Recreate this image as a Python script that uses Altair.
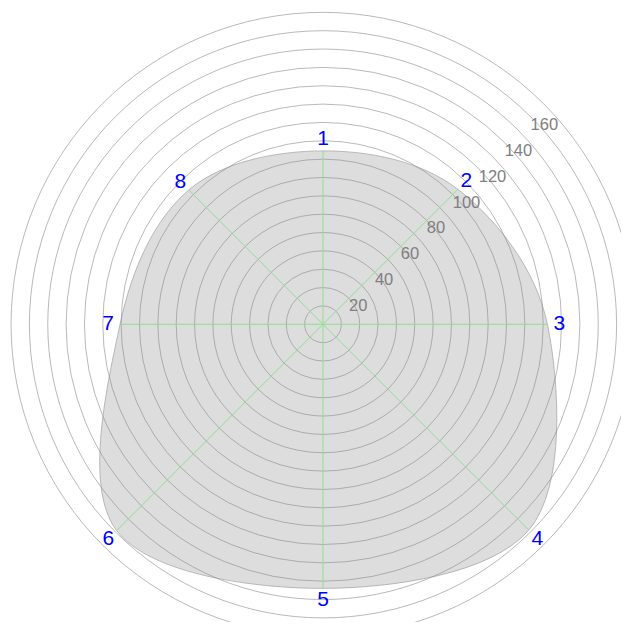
import altair as alt
import pandas as pd

# Spoke categories and values (units)
categories = ["1", "2", "3", "4", "5", "6", "7", "8"]
values = [94.5, 104, 122.3, 158.6, 143.9, 159, 110.6, 103.5]

# Grid rings and ring labels
ring_values = list(range(10, 180, 10))
ring_label_values = [20, 40, 60, 80, 100, 120, 140, 160]

PX_PER_UNIT = 1.835
W, H = 613, 614
CX, CY = 315, 316.3
x_dom = [-CX / PX_PER_UNIT, (W - CX) / PX_PER_UNIT]
y_dom = [-(H - CY) / PX_PER_UNIT, CY / PX_PER_UNIT]

xs = alt.Scale(domain=x_dom, nice=False, zero=False)
ys = alt.Scale(domain=y_dom, nice=False, zero=False)

df = pd.DataFrame({"cat": categories, "value": values, "idx": list(range(len(categories)))})
rings = pd.DataFrame({"r": ring_values})
ring_labels = pd.DataFrame({"r": ring_label_values, "label": [str(v) for v in ring_label_values]})

base = alt.Chart(df).transform_calculate(
    ang="datum.idx * PI / 4",
    px="datum.value * sin(datum.ang)",
    py="datum.value * cos(datum.ang)",
    lx="(datum.value + 6.5) * sin(datum.ang)",
    ly="(datum.value + 6.5) * cos(datum.ang)",
    ox="0",
    oy="0",
)

shape = base.mark_line(
    interpolate="cardinal-closed", fill="#dddddd", stroke="#a9a9a9", strokeWidth=0.8, clip=True
).encode(
    x=alt.X("px:Q", scale=xs, axis=None),
    y=alt.Y("py:Q", scale=ys, axis=None),
    order="idx:Q",
)

ring_layer = alt.Chart(rings).transform_calculate(
    ox="0", oy="0"
).mark_arc(
    filled=False, stroke="#8a8a8a", strokeWidth=0.6, theta=0, theta2=6.2832, clip=True
).encode(
    x=alt.X("ox:Q", scale=xs, axis=None),
    y=alt.Y("oy:Q", scale=ys, axis=None),
    radius=alt.Radius("r:Q", stack=None,
                      scale=alt.Scale(type="linear", domain=[0, 170], range=[0, 170 * PX_PER_UNIT])),
)

spokes = base.mark_rule(color="#8fe08f", strokeWidth=1).encode(
    x=alt.X("ox:Q", scale=xs, axis=None),
    y=alt.Y("oy:Q", scale=ys, axis=None),
    x2="px:Q",
    y2="py:Q",
)

ring_text = alt.Chart(ring_labels).transform_calculate(
    tx="datum.r * 0.70711", ty="datum.r * 0.70711"
).mark_text(
    align="left", baseline="top", font="Arial", fontSize=16.5, color="#808080"
).encode(
    x=alt.X("tx:Q", scale=xs, axis=None),
    y=alt.Y("ty:Q", scale=ys, axis=None),
    text="label:N",
)

cat_text = base.mark_text(
    align="center", baseline="middle", font="Arial", fontSize=21, color="#0000ff"
).encode(
    x=alt.X("lx:Q", scale=xs, axis=None),
    y=alt.Y("ly:Q", scale=ys, axis=None),
    text="cat:N",
)

chart = alt.layer(shape, ring_layer, spokes, ring_text, cat_text).properties(
    width=W, height=H, autosize=alt.AutoSizeParams(type="none"), padding=0
).configure_view(stroke=None)

chart.save("out.html", embed_options={"renderer": "svg", "actions": False})
